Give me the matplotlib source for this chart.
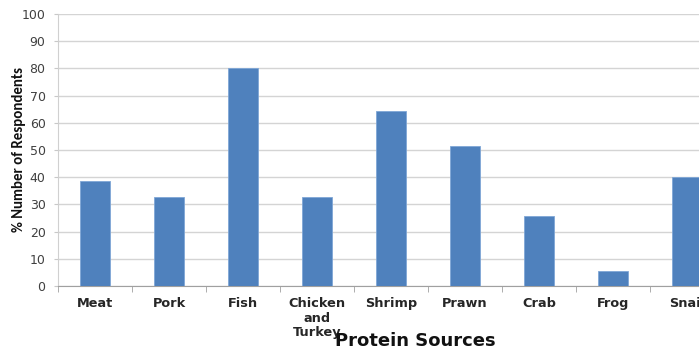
import numpy as np
import matplotlib.pyplot as plt

# protein sources and share of respondents (%)
sources = ["Meat", "Pork", "Fish", "Chicken\nand\nTurkey", "Shrimp",
           "Prawn", "Crab", "Frog", "Snail"]
percent = [38.5, 32.8, 80.0, 32.8, 64.2, 51.5, 25.6, 5.6, 40.0]
yticks = list(range(0, 101, 10))

narrow = ["Carlito", "Liberation Sans Narrow", "Archivo Narrow",
          "Asap Condensed", "DejaVu Sans"]

fig = plt.figure(figsize=(6.99, 3.52), dpi=100)
# axes runs past the right edge, like the cropped original
ax = fig.add_axes([58/699, 66/352, 666/699, 272/352])

x = np.arange(len(sources))
ax.bar(x, percent, width=0.4, color="#4F81BD", edgecolor="#7FA6D6",
       linewidth=0.6, zorder=3)

ax.set_xlim(-0.5, len(sources) - 0.5)
ax.set_ylim(0, 100)
ax.set_yticks(yticks)
ax.yaxis.grid(True, color="#D4D4D4", linewidth=1.0, zorder=0)

ax.set_xticks(x)
ax.set_xticklabels(sources, fontsize=9.3, fontweight="bold", color="#262626",
                   linespacing=1.15, va="top")
ax.set_xticks(np.arange(len(sources) + 1) - 0.5, minor=True)
ax.tick_params(axis="x", which="major", length=0, pad=8)
ax.tick_params(axis="x", which="minor", length=4, color="#A0A0A0", direction="out")
ax.tick_params(axis="y", length=3, color="#C8C8C8", labelsize=9,
               labelcolor="#404040", pad=6)

for side in ["top", "right"]:
    ax.spines[side].set_visible(False)
ax.spines["left"].set_color("#D0D0D0")
ax.spines["bottom"].set_color("#A0A0A0")

fig.text(19/699, 1 - 150/352, "% Number of Respondents", rotation=90,
         ha="center", va="center", fontsize=10.7, fontweight="bold",
         family=narrow, color="#111111")
fig.text(415/699, 11/352, "Protein Sources", ha="center", va="center",
         fontsize=13, fontweight="bold", color="#111111")

fig.savefig("out.png", dpi=100)
